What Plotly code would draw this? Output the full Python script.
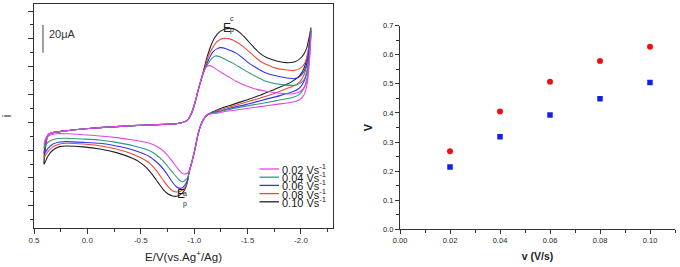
import plotly.graph_objects as go

# ---------------- data: cyclic voltammograms (E in V vs Ag+/Ag, i in uA) ----------------
scan_rates = [0.02, 0.04, 0.06, 0.08, 0.10]
legend_labels = ["0.02 Vs<sup>-1</sup>", "0.04 Vs<sup>-1</sup>", "0.06 Vs<sup>-1</sup>",
                 "0.08 Vs<sup>-1</sup>", "0.10 Vs<sup>-1</sup>"]
colors = ["#e842e8", "#2f9a80", "#3434f0", "#ee4a3c", "#202020"]

# shared part of the forward (cathodic) sweep
E_fwd_common = [0.369, 0.353, 0.322, 0.197, 0.041, -0.116, -0.272, -0.428, -0.584, -0.741,
                -0.834, -0.881, -0.913, -0.944, -0.975, -1.006, -1.038, -1.069]
I_fwd_common = [-9.1, -8.2, -7.4, -6.0, -4.8, -3.8, -3.1, -2.4, -1.9, -1.4,
                -1.0, -0.3, 0.5, 2.2, 6.5, 13.7, 23.3, 31.7]
# shared steep part of the reverse sweep
E_ret_steep = [-1.131, -1.100, -1.069, -1.038, -1.006, -0.975, -0.953]
I_ret_steep = [5.8, 3.6, -0.7, -7.9, -19.9, -29.5, -35.5]

# 0.02 V/s
E_start_002 = [0.406, 0.394]
I_start_002 = [-15.8, -12.2]
E_fwd_002 = [-1.094, -1.116, -1.141, -1.172, -1.209, -1.256, -1.319, -1.397, -1.491, -1.584,
             -1.678, -1.803, -1.913, -1.991, -2.038, -2.069, -2.084, -2.094]
I_fwd_002 = [37.2, 40.0, 40.8, 40.0, 38.1, 35.7, 32.9, 29.3, 26.1, 23.7,
             22.3, 20.9, 20.4, 22.1, 26.1, 35.3, 49.6, 63.3]
E_ret_002 = [-2.081, -2.059, -2.028, -1.984, -1.928, -1.772, -1.616, -1.459, -1.303, -1.209]
I_ret_002 = [44.8, 28.1, 19.7, 16.1, 14.6, 12.9, 11.3, 9.6, 7.9, 6.5]
E_low_002 = [-0.928, -0.906, -0.881, -0.850, -0.803, -0.741, -0.678, -0.584, -0.428, -0.272,
             -0.116, 0.041, 0.197, 0.291, 0.353, 0.384, 0.406]
I_low_002 = [-36.9, -37.2, -36.2, -33.6, -28.8, -22.8, -18.7, -15.1, -12.7, -11.0,
             -9.8, -8.9, -8.2, -8.2, -9.4, -11.8, -15.8]

# 0.04 V/s
E_start_004 = [0.406, 0.394]
I_start_004 = [-18.7, -13.9]
E_fwd_004 = [-1.094, -1.122, -1.163, -1.197, -1.241, -1.303, -1.366, -1.444, -1.522, -1.600,
             -1.678, -1.834, -1.959, -2.022, -2.059, -2.081, -2.094]
I_fwd_004 = [37.2, 41.2, 45.8, 47.7, 47.2, 44.8, 42.4, 38.8, 35.3, 32.1,
             29.3, 26.9, 26.9, 30.0, 37.6, 49.6, 64.5]
E_ret_004 = [-2.081, -2.059, -2.028, -1.984, -1.928, -1.772, -1.616, -1.459, -1.303, -1.203]
I_ret_004 = [48.4, 32.9, 24.5, 20.1, 18.0, 15.6, 13.4, 11.3, 8.9, 7.0]
E_low_004 = [-0.944, -0.919, -0.891, -0.859, -0.819, -0.772, -0.709, -0.647, -0.584, -0.428,
             -0.272, -0.116, 0.041, 0.197, 0.291, 0.353, 0.384, 0.406]
I_low_004 = [-39.1, -41.5, -42.7, -41.5, -37.9, -33.6, -27.8, -23.5, -20.4, -16.8,
             -14.4, -12.7, -12.0, -11.5, -11.8, -13.4, -15.6, -18.7]

# 0.06 V/s
E_start_006 = [0.406, 0.394]
I_start_006 = [-22.8, -15.1]
E_fwd_006 = [-1.109, -1.141, -1.178, -1.216, -1.247, -1.303, -1.397, -1.459, -1.522, -1.600,
             -1.678, -1.834, -1.944, -2.006, -2.047, -2.075, -2.094]
I_fwd_006 = [40.0, 46.0, 50.8, 53.0, 53.7, 52.8, 49.6, 46.0, 42.0, 38.4,
             35.3, 32.4, 31.4, 34.1, 40.0, 52.0, 65.7]
E_ret_006 = [-2.081, -2.059, -2.028, -1.984, -1.928, -1.803, -1.647, -1.491, -1.334, -1.225, -1.172]
I_ret_006 = [52.0, 37.6, 29.3, 24.5, 22.1, 19.2, 16.1, 12.9, 10.1, 7.7, 6.7]
E_low_006 = [-0.938, -0.913, -0.888, -0.866, -0.834, -0.788, -0.741, -0.678, -0.616, -0.584,
             -0.428, -0.272, -0.116, 0.041, 0.197, 0.259, 0.322, 0.369, 0.406]
I_low_006 = [-41.5, -45.1, -47.0, -47.5, -46.3, -42.2, -36.7, -30.7, -26.6, -24.7,
             -19.9, -17.0, -15.1, -14.4, -13.9, -14.1, -15.6, -18.7, -22.8]

# 0.08 V/s
E_start_008 = [0.406, 0.391]
I_start_008 = [-25.2, -15.6]
E_fwd_008 = [-1.103, -1.131, -1.169, -1.209, -1.247, -1.288, -1.334, -1.397, -1.459, -1.538,
             -1.616, -1.694, -1.772, -1.928, -1.991, -2.038, -2.069, -2.094]
I_fwd_008 = [40.0, 47.2, 53.2, 57.6, 59.7, 60.4, 60.0, 57.8, 54.4, 49.2,
             44.1, 41.0, 38.8, 37.2, 38.8, 42.9, 52.0, 66.9]
E_ret_008 = [-2.081, -2.059, -2.028, -1.984, -1.928, -1.834, -1.678, -1.522, -1.366, -1.256, -1.188]
I_ret_008 = [55.6, 42.4, 34.1, 28.8, 26.1, 23.3, 18.9, 15.3, 11.8, 9.4, 7.4]
E_low_008 = [-0.934, -0.906, -0.875, -0.834, -0.797, -0.756, -0.709, -0.647, -0.584, -0.491,
             -0.428, -0.272, -0.116, 0.041, 0.197, 0.259, 0.322, 0.369, 0.406]
I_low_008 = [-43.4, -47.5, -49.4, -50.1, -49.2, -46.3, -41.5, -34.8, -29.5, -25.2,
             -23.0, -19.2, -16.8, -15.6, -15.1, -15.6, -17.5, -21.1, -25.2]

# 0.10 V/s
E_start_010 = [0.406, 0.391]
I_start_010 = [-30.2, -17.5]
E_fwd_010 = [-1.097, -1.122, -1.153, -1.194, -1.241, -1.288, -1.334, -1.381, -1.428, -1.491,
             -1.553, -1.616, -1.694, -1.772, -1.866, -1.944, -2.006, -2.053, -2.078, -2.094]
I_fwd_010 = [40.0, 47.2, 54.4, 61.2, 65.2, 67.1, 67.6, 66.9, 64.5, 59.7,
             54.4, 49.6, 46.0, 44.1, 42.9, 43.6, 46.8, 53.2, 61.6, 68.1]
E_ret_010 = [-2.081, -2.059, -2.028, -1.984, -1.928, -1.866, -1.741, -1.616, -1.491, -1.366,
             -1.272, -1.194]
I_ret_010 = [58.0, 47.2, 38.8, 33.3, 30.0, 27.3, 23.3, 19.4, 16.1, 12.9, 10.6, 8.2]
E_low_010 = [-0.931, -0.906, -0.875, -0.834, -0.797, -0.756, -0.709, -0.663, -0.616, -0.553,
             -0.491, -0.428, -0.272, -0.116, 0.041, 0.197, 0.259, 0.322, 0.369, 0.406]
I_low_010 = [-44.6, -49.2, -51.8, -53.2, -53.0, -51.6, -48.2, -43.4, -38.4, -32.6,
             -28.8, -26.1, -21.8, -19.2, -17.7, -17.0, -17.5, -19.9, -24.2, -30.2]

# scale bar (20 uA)
scalebar_E = 0.416
scalebar_I = [50, 70]

# left axis tick labels
cv_tickvals = [0.5, 0.0, -0.5, -1.0, -1.5, -2.0]
cv_ticktext = ["0.5", "0.0", "-0.5", "-1.0", "-1.5", "-2.0"]

# ---------------- data: right panel ----------------
v_scan = [0.02, 0.04, 0.06, 0.08, 0.10]
red_vals = [0.268, 0.405, 0.507, 0.579, 0.628]
blue_vals = [0.214, 0.318, 0.393, 0.449, 0.505]
v_tickvals = [0.0, 0.02, 0.04, 0.06, 0.08, 0.10]
v_ticktext = ["0.00", "0.02", "0.04", "0.06", "0.08", "0.10"]
V_tickvals = [0.0, 0.1, 0.2, 0.3, 0.4, 0.5, 0.6, 0.7]
V_ticktext = ["0.0", "0.1", "0.2", "0.3", "0.4", "0.5", "0.6", "0.7"]

curves = [
    (E_start_002, I_start_002, E_fwd_002, I_fwd_002, E_ret_002, I_ret_002, E_low_002, I_low_002),
    (E_start_004, I_start_004, E_fwd_004, I_fwd_004, E_ret_004, I_ret_004, E_low_004, I_low_004),
    (E_start_006, I_start_006, E_fwd_006, I_fwd_006, E_ret_006, I_ret_006, E_low_006, I_low_006),
    (E_start_008, I_start_008, E_fwd_008, I_fwd_008, E_ret_008, I_ret_008, E_low_008, I_low_008),
    (E_start_010, I_start_010, E_fwd_010, I_fwd_010, E_ret_010, I_ret_010, E_low_010, I_low_010),
]

W, H = 680, 267
FONT = "Liberation Sans, Arial, sans-serif"

fig = go.Figure()
for idx in reversed(range(len(curves))):
    Es, Is, Ef, If, Er, Ir, El, Il = curves[idx]
    E = Es + E_fwd_common + Ef + Er + E_ret_steep + El
    I = Is + I_fwd_common + If + Ir + I_ret_steep + Il
    fig.add_trace(go.Scatter(
        x=E, y=I, mode="lines", name=legend_labels[idx], showlegend=False,
        line=dict(color=colors[idx], width=1.1, shape="spline", smoothing=0.6),
        xaxis="x", yaxis="y"))

fig.add_trace(go.Scatter(x=v_scan, y=red_vals, mode="markers", showlegend=False,
                         marker=dict(symbol="circle", size=6, color="#f01010"),
                         xaxis="x2", yaxis="y2"))
fig.add_trace(go.Scatter(x=v_scan, y=blue_vals, mode="markers", showlegend=False,
                         marker=dict(symbol="square", size=5.5, color="#1020f0"),
                         xaxis="x2", yaxis="y2"))

def px(x):
    return x / W

def py(y):
    return 1 - y / H

shapes = [dict(type="line", xref="x", yref="y", x0=scalebar_E, x1=scalebar_E,
               y0=scalebar_I[0], y1=scalebar_I[1], line=dict(color="#808080", width=1.5))]
annotations = [
    dict(text="20μA", x=px(46.5), y=py(34), xref="paper", yref="paper", xanchor="left",
         yanchor="middle", showarrow=False, font=dict(family=FONT, size=11, color="#333")),
    dict(text="E", x=px(227), y=py(18.5), xref="paper", yref="paper", showarrow=False,
         font=dict(family=FONT, size=12, color="#222")),
    dict(text="c", x=px(232), y=py(12.5), xref="paper", yref="paper", showarrow=False,
         font=dict(family=FONT, size=7, color="#222")),
    dict(text="p", x=px(231.8), y=py(24), xref="paper", yref="paper", showarrow=False,
         font=dict(family=FONT, size=7, color="#222")),
    dict(text="E", x=px(175.3), y=py(203.3), xref="paper", yref="paper", showarrow=False,
         font=dict(family=FONT, size=12, color="#222")),
    dict(text="a", x=px(180.8), y=py(198.5), xref="paper", yref="paper", showarrow=False,
         font=dict(family=FONT, size=7, color="#222")),
    dict(text="p", x=px(180.6), y=py(209.5), xref="paper", yref="paper", showarrow=False,
         font=dict(family=FONT, size=7, color="#222")),
]
# manual compact legend
for k in range(len(legend_labels)):
    yy = 169 + 8.2 * k
    shapes.append(dict(type="line", xref="paper", yref="paper", x0=px(259.5), x1=px(279),
                       y0=py(yy), y1=py(yy), line=dict(color=colors[k], width=1.3)))
    annotations.append(dict(text=legend_labels[k], x=px(279.5), y=py(yy), xref="paper",
                            yref="paper", xanchor="left", yanchor="middle", showarrow=False,
                            font=dict(family=FONT, size=11, color="#222")))

axis_common = dict(showgrid=False, zeroline=False, showline=True, ticks="outside",
                   tickcolor="#333", linecolor="#333", automargin=False)

fig.update_layout(
    width=W, height=H, margin=dict(l=0, r=0, t=0, b=0, autoexpand=False),
    paper_bgcolor="white", plot_bgcolor="white",
    font=dict(family=FONT, color="#222"),
    shapes=shapes, annotations=annotations, showlegend=False,
    xaxis=dict(domain=[px(34.0), px(333)], range=[0.5, -2.3], anchor="y", mirror=True,
               linewidth=1.2, ticklen=5, tickmode="array", tickvals=cv_tickvals,
               ticktext=cv_ticktext, tickfont=dict(size=8, color="#333"),
               minor=dict(tickmode="linear", tick0=0, dtick=0.25, ticklen=3, ticks="outside",
                          tickcolor="#333"),
               title=dict(text="E/V(vs.Ag<sup>+</sup>/Ag)", font=dict(size=11.5, color="#222"),
                          standoff=8),
               **axis_common),
    yaxis=dict(domain=[py(227.7), py(4)], range=[-75.8, 85.1], anchor="x", mirror=True,
               linewidth=1.2, ticklen=5, tick0=0, dtick=20, showticklabels=False,
               minor=dict(tick0=0, dtick=10, ticklen=3, ticks="outside", tickcolor="#333"),
               title=dict(text="i", font=dict(size=12, color="#222"), standoff=14),
               **axis_common),
    xaxis2=dict(domain=[px(400), px(675)], range=[0, 0.11], anchor="y2", linewidth=1.2,
                ticklen=4, tickmode="array", tickvals=v_tickvals, ticktext=v_ticktext,
                tickfont=dict(size=7.5, color="#222"),
                minor=dict(tickmode="linear", tick0=0, dtick=0.01, ticklen=2.5,
                           ticks="outside", tickcolor="#333"),
                title=dict(text="<b>v (V/s)</b>", font=dict(size=10.5, color="#222"), standoff=8),
                **axis_common),
    yaxis2=dict(domain=[py(229.3), py(25.7)], range=[0, 0.7], anchor="x2", linewidth=1.2,
                ticklen=4, tickmode="array", tickvals=V_tickvals, ticktext=V_ticktext,
                tickfont=dict(size=7.5, color="#222"),
                minor=dict(tickmode="linear", tick0=0, dtick=0.05, ticklen=2.5,
                           ticks="outside", tickcolor="#333"),
                title=dict(text="<b>V</b>", font=dict(size=11, color="#222"), standoff=8),
                **axis_common),
)

fig.write_html("out.html", config={"displayModeBar": False},
               post_script="document.body.style.margin='0';document.body.style.padding='0';")
